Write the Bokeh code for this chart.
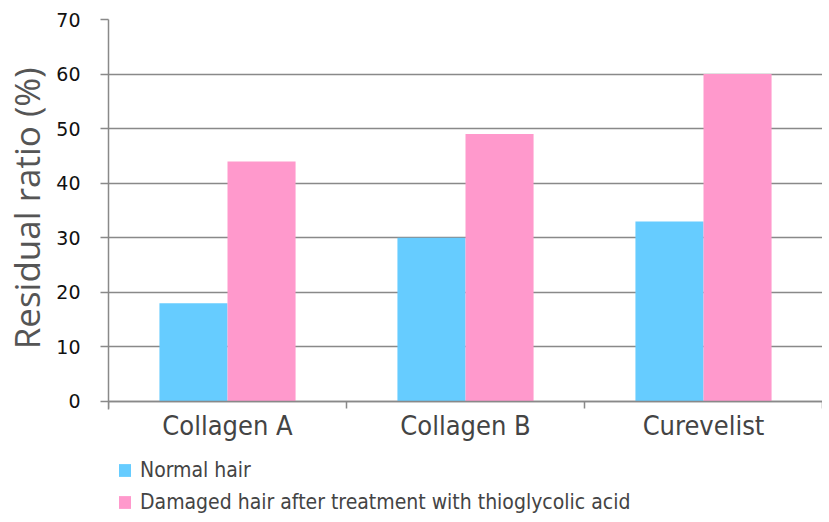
from bokeh.plotting import figure
from bokeh.models import ColumnDataSource, FixedTicker, Legend, LegendItem, Range1d, LinearAxis, Title
from bokeh.embed import file_html
from bokeh.resources import INLINE

categories = ["Collagen A", "Collagen B", "Curevelist"]
normal_hair = [18, 30, 33]
damaged_hair = [44, 49, 60]
series_names = ["Normal hair", "Damaged hair after treatment with thioglycolic acid"]
y_ticks = [0, 10, 20, 30, 40, 50, 60, 70]
y_title = "Residual ratio (%)"

centers = [i + 0.5 for i in range(len(categories))]
bw = 0.286
src = ColumnDataSource(dict(
    xn=[c - bw / 2 for c in centers],
    xd=[c + bw / 2 for c in centers],
    normal=normal_hair,
    damaged=damaged_hair,
))

# the frame extends below zero to hold the category labels and the legend
p = figure(width=822, height=514, output_backend="svg", toolbar_location=None,
           x_range=Range1d(0, len(categories)), y_range=Range1d(-20.71, 70),
           x_axis_location=None,
           min_border_left=108, min_border_right=0, min_border_top=19, min_border_bottom=0)
p.outline_line_color = None
p.xgrid.grid_line_color = None
p.ygrid.grid_line_color = "#898989"
p.ygrid.grid_line_width = 1.5

r1 = p.vbar(x="xn", top="normal", width=bw, source=src, fill_color="#66CCFF", line_color=None)
r2 = p.vbar(x="xd", top="damaged", width=bw, source=src, fill_color="#FF99CC", line_color=None)

# y axis
p.yaxis.ticker = FixedTicker(ticks=y_ticks)
p.yaxis.bounds = (-1.4, 70)
p.yaxis.axis_line_color = "#898989"
p.yaxis.axis_line_width = 1.5
p.yaxis.major_tick_line_color = "#898989"
p.yaxis.major_tick_line_width = 1.5
p.yaxis.major_tick_out = 8
p.yaxis.major_tick_in = 0
p.yaxis.minor_tick_line_color = None
p.yaxis.major_label_standoff = 20
p.yaxis.major_label_text_font = "DejaVu Sans"
p.yaxis.major_label_text_font_size = "19px"
p.yaxis.major_label_text_color = "#111111"

ytitle = Title(text=y_title, align="right", offset=48, standoff=4, vertical_align="top",
               text_font="Open Sans", text_font_style="normal",
               text_font_size="35px", text_color="#555555")
p.add_layout(ytitle, "left")

# x axis, fixed at y = 0 inside the frame
xax = LinearAxis(fixed_location=0)
xax.ticker = FixedTicker(ticks=centers, minor_ticks=list(range(len(categories) + 1)))
xax.major_label_overrides = {c: n for c, n in zip(centers, categories)}
xax.axis_line_color = "#898989"
xax.axis_line_width = 1.5
xax.major_tick_line_color = None
xax.major_tick_out = 0
xax.major_tick_in = 0
xax.minor_tick_line_color = "#898989"
xax.minor_tick_line_width = 1.5
xax.minor_tick_out = 7
xax.minor_tick_in = 0
xax.major_label_standoff = 2
xax.major_label_text_font = "DejaVu Sans Condensed"
xax.major_label_text_font_size = "27px"
xax.major_label_text_color = "#444444"
p.add_layout(xax, "below")

legend = Legend(items=[LegendItem(label=series_names[0], renderers=[r1]),
                       LegendItem(label=series_names[1], renderers=[r2])],
                location=(9, 0), orientation="vertical",
                padding=0, margin=0, spacing=8,
                glyph_width=15, glyph_height=16, label_height=16,
                label_standoff=8, border_line_color=None, background_fill_alpha=0,
                label_text_font="DejaVu Sans Condensed", label_text_font_size="21px",
                label_text_color="#444444")
p.add_layout(legend, "center")

open("out.html", "w").write(file_html(p, INLINE))
